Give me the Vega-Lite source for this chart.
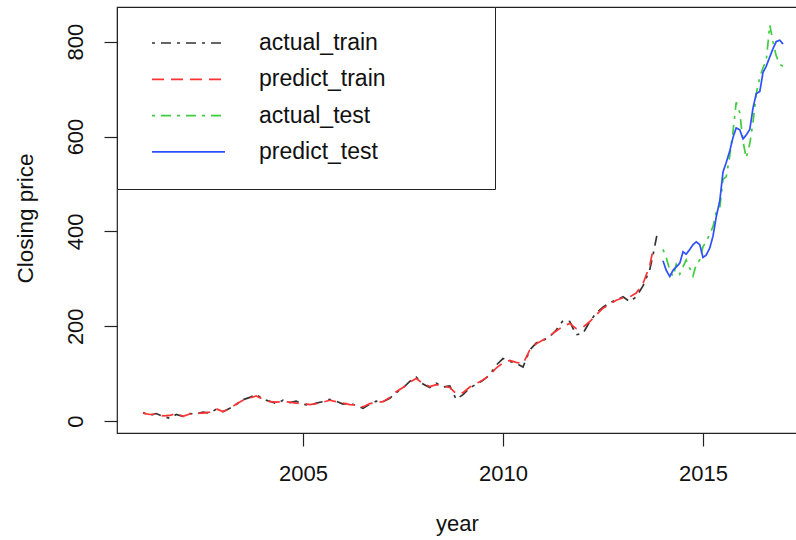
{
  "$schema": "https://vega.github.io/schema/vega-lite/v6.json",
  "width": 680,
  "height": 426,
  "autosize": "none",
  "padding": {"left": 117, "top": 7, "right": 0, "bottom": 107},
  "background": "white",
  "config": {
    "font": "Liberation Sans",
    "view": {"stroke": "#222222", "strokeWidth": 1.2}
  },
  "data": {
    "values": [
      {"year": 2001.0, "actual_train": 18, "predict_train": 17},
      {"year": 2001.17, "actual_train": 12, "predict_train": 14},
      {"year": 2001.33, "actual_train": 16, "predict_train": 15},
      {"year": 2001.5, "actual_train": 10, "predict_train": 11},
      {"year": 2001.67, "actual_train": 6, "predict_train": 12},
      {"year": 2001.83, "actual_train": 14, "predict_train": 16},
      {"year": 2002.0, "actual_train": 10, "predict_train": 10},
      {"year": 2002.17, "actual_train": 16, "predict_train": 15},
      {"year": 2002.33, "actual_train": 15, "predict_train": 17},
      {"year": 2002.5, "actual_train": 19, "predict_train": 17},
      {"year": 2002.67, "actual_train": 17, "predict_train": 19},
      {"year": 2002.83, "actual_train": 25, "predict_train": 26},
      {"year": 2003.0, "actual_train": 20, "predict_train": 20},
      {"year": 2003.17, "actual_train": 27, "predict_train": 26},
      {"year": 2003.33, "actual_train": 35, "predict_train": 36},
      {"year": 2003.5, "actual_train": 45, "predict_train": 44},
      {"year": 2003.67, "actual_train": 50, "predict_train": 49},
      {"year": 2003.83, "actual_train": 56, "predict_train": 53},
      {"year": 2004.0, "actual_train": 46, "predict_train": 46},
      {"year": 2004.17, "actual_train": 42, "predict_train": 41},
      {"year": 2004.33, "actual_train": 37, "predict_train": 40},
      {"year": 2004.5, "actual_train": 44, "predict_train": 41},
      {"year": 2004.67, "actual_train": 39, "predict_train": 40},
      {"year": 2004.83, "actual_train": 42, "predict_train": 38},
      {"year": 2005.0, "actual_train": 36, "predict_train": 37},
      {"year": 2005.17, "actual_train": 33, "predict_train": 35},
      {"year": 2005.33, "actual_train": 38, "predict_train": 37},
      {"year": 2005.5, "actual_train": 41, "predict_train": 40},
      {"year": 2005.67, "actual_train": 46, "predict_train": 44},
      {"year": 2005.83, "actual_train": 42, "predict_train": 41},
      {"year": 2006.0, "actual_train": 36, "predict_train": 38},
      {"year": 2006.17, "actual_train": 38, "predict_train": 35},
      {"year": 2006.33, "actual_train": 33, "predict_train": 34},
      {"year": 2006.5, "actual_train": 27, "predict_train": 30},
      {"year": 2006.67, "actual_train": 36, "predict_train": 37},
      {"year": 2006.83, "actual_train": 42, "predict_train": 39},
      {"year": 2007.0, "actual_train": 41, "predict_train": 41},
      {"year": 2007.17, "actual_train": 48, "predict_train": 50},
      {"year": 2007.33, "actual_train": 60, "predict_train": 62},
      {"year": 2007.5, "actual_train": 70, "predict_train": 71},
      {"year": 2007.67, "actual_train": 84, "predict_train": 82},
      {"year": 2007.83, "actual_train": 93, "predict_train": 90},
      {"year": 2008.0, "actual_train": 78, "predict_train": 79},
      {"year": 2008.17, "actual_train": 71, "predict_train": 73},
      {"year": 2008.33, "actual_train": 80, "predict_train": 77},
      {"year": 2008.5, "actual_train": 72, "predict_train": 74},
      {"year": 2008.67, "actual_train": 74, "predict_train": 71},
      {"year": 2008.83, "actual_train": 46, "predict_train": 58},
      {"year": 2009.0, "actual_train": 56, "predict_train": 60},
      {"year": 2009.17, "actual_train": 70, "predict_train": 72},
      {"year": 2009.33, "actual_train": 78, "predict_train": 79},
      {"year": 2009.5, "actual_train": 86, "predict_train": 87},
      {"year": 2009.67, "actual_train": 98, "predict_train": 97},
      {"year": 2009.83, "actual_train": 118, "predict_train": 112},
      {"year": 2010.0, "actual_train": 132, "predict_train": 123},
      {"year": 2010.17, "actual_train": 126, "predict_train": 128},
      {"year": 2010.33, "actual_train": 122, "predict_train": 124},
      {"year": 2010.5, "actual_train": 114, "predict_train": 121},
      {"year": 2010.67, "actual_train": 150, "predict_train": 150},
      {"year": 2010.83, "actual_train": 165, "predict_train": 163},
      {"year": 2011.0, "actual_train": 170, "predict_train": 171},
      {"year": 2011.17, "actual_train": 178, "predict_train": 180},
      {"year": 2011.33, "actual_train": 192, "predict_train": 190},
      {"year": 2011.5, "actual_train": 212, "predict_train": 200},
      {"year": 2011.67, "actual_train": 210, "predict_train": 206},
      {"year": 2011.83, "actual_train": 182, "predict_train": 195},
      {"year": 2012.0, "actual_train": 185, "predict_train": 198},
      {"year": 2012.17, "actual_train": 210, "predict_train": 210},
      {"year": 2012.33, "actual_train": 228, "predict_train": 224},
      {"year": 2012.5, "actual_train": 240, "predict_train": 238},
      {"year": 2012.67, "actual_train": 250, "predict_train": 246},
      {"year": 2012.83, "actual_train": 255, "predict_train": 255},
      {"year": 2013.0, "actual_train": 262, "predict_train": 260},
      {"year": 2013.17, "actual_train": 252, "predict_train": 262},
      {"year": 2013.33, "actual_train": 262, "predict_train": 270},
      {"year": 2013.5, "actual_train": 285, "predict_train": 290},
      {"year": 2013.67, "actual_train": 320, "predict_train": 328},
      {"year": 2013.75, "actual_train": 350, "predict_train": 362},
      {"year": 2013.85, "actual_train": 393},
      {"year": 2014.0, "actual_test": 362, "predict_test": 338},
      {"year": 2014.08, "actual_test": 345, "predict_test": 318},
      {"year": 2014.17, "actual_test": 318, "predict_test": 305},
      {"year": 2014.25, "actual_test": 305, "predict_test": 318},
      {"year": 2014.33, "actual_test": 330, "predict_test": 325},
      {"year": 2014.42, "actual_test": 310, "predict_test": 333},
      {"year": 2014.5, "actual_test": 325, "predict_test": 357},
      {"year": 2014.58, "actual_test": 340, "predict_test": 352},
      {"year": 2014.67, "actual_test": 322, "predict_test": 362},
      {"year": 2014.75, "actual_test": 306, "predict_test": 372},
      {"year": 2014.83, "actual_test": 330, "predict_test": 378},
      {"year": 2014.92, "actual_test": 340, "predict_test": 372},
      {"year": 2015.0, "actual_test": 368, "predict_test": 345},
      {"year": 2015.08, "actual_test": 378, "predict_test": 350},
      {"year": 2015.17, "actual_test": 395, "predict_test": 365},
      {"year": 2015.25, "actual_test": 410, "predict_test": 390},
      {"year": 2015.33, "actual_test": 440, "predict_test": 430},
      {"year": 2015.42, "actual_test": 450, "predict_test": 465},
      {"year": 2015.5, "actual_test": 510, "predict_test": 525},
      {"year": 2015.58, "actual_test": 515, "predict_test": 545},
      {"year": 2015.67, "actual_test": 560, "predict_test": 570},
      {"year": 2015.75, "actual_test": 610, "predict_test": 598},
      {"year": 2015.83, "actual_test": 672, "predict_test": 618},
      {"year": 2015.92, "actual_test": 650, "predict_test": 614},
      {"year": 2016.0, "actual_test": 590, "predict_test": 595},
      {"year": 2016.08, "actual_test": 555, "predict_test": 603},
      {"year": 2016.17, "actual_test": 585, "predict_test": 615},
      {"year": 2016.25, "actual_test": 630, "predict_test": 660},
      {"year": 2016.33, "actual_test": 690, "predict_test": 690},
      {"year": 2016.42, "actual_test": 725, "predict_test": 695},
      {"year": 2016.5, "actual_test": 745, "predict_test": 735},
      {"year": 2016.58, "actual_test": 760, "predict_test": 748},
      {"year": 2016.67, "actual_test": 835, "predict_test": 768},
      {"year": 2016.75, "actual_test": 800, "predict_test": 785},
      {"year": 2016.83, "actual_test": 770, "predict_test": 800},
      {"year": 2016.92, "actual_test": 752, "predict_test": 803},
      {"year": 2017.0, "actual_test": 748, "predict_test": 795}
    ]
  },
  "transform": [
    {"fold": ["actual_train", "predict_train", "actual_test", "predict_test"], "as": ["series", "price"]},
    {"filter": "isValid(datum.price)"}
  ],
  "mark": {"type": "line", "strokeWidth": 1.7, "clip": true},
  "encoding": {
    "x": {
      "field": "year",
      "type": "quantitative",
      "scale": {"domain": [2000.35, 2017.35], "nice": false, "zero": false},
      "axis": {
        "values": [2005, 2010, 2015],
        "format": "d",
        "grid": false,
        "domain": false,
        "tickColor": "#222222",
        "tickSize": 13,
        "tickWidth": 1.2,
        "labelFontSize": 22,
        "labelColor": "#111111",
        "labelBaseline": "alphabetic",
        "labelPadding": 34,
        "title": "year",
        "titleFontSize": 22,
        "titleFontWeight": "normal",
        "titleColor": "#111111",
        "titleX": 340,
        "titleY": 97,
        "titleBaseline": "alphabetic"
      }
    },
    "y": {
      "field": "price",
      "type": "quantitative",
      "scale": {"domain": [-25, 873], "nice": false, "zero": false},
      "axis": {
        "values": [0, 200, 400, 600, 800],
        "grid": false,
        "domain": false,
        "tickColor": "#222222",
        "tickSize": 13,
        "tickWidth": 1.2,
        "labelFontSize": 22,
        "labelColor": "#111111",
        "labelAngle": -90,
        "labelAlign": "center",
        "labelBaseline": "alphabetic",
        "labelPadding": 22,
        "title": "Closing price",
        "titleFontSize": 22.5,
        "titleFontWeight": "normal",
        "titleColor": "#111111",
        "titleAngle": -90,
        "titleAlign": "center",
        "titleBaseline": "alphabetic",
        "titleX": -85,
        "titleY": 211
      }
    },
    "color": {
      "field": "series",
      "type": "nominal",
      "scale": {
        "domain": ["actual_train", "predict_train", "actual_test", "predict_test"],
        "range": ["#333333", "#ff3333", "#3fcc3f", "#2f50ff"]
      },
      "legend": {
        "title": " ",
        "titleOrient": "right",
        "titlePadding": 84,
        "orient": "none",
        "legendX": 0,
        "legendY": 0,
        "padding": 25,
        "fillColor": "white",
        "strokeColor": "#222222",
        "symbolType": "stroke",
        "symbolSize": 5329,
        "symbolStrokeWidth": 1.7,
        "symbolOffset": 9,
        "clipHeight": 22,
        "rowPadding": 13.3,
        "labelFontSize": 23,
        "labelColor": "#111111",
        "labelOffset": 33,
        "labelBaseline": "middle"
      }
    },
    "strokeDash": {
      "field": "series",
      "type": "nominal",
      "scale": {
        "domain": ["actual_train", "predict_train", "actual_test", "predict_test"],
        "range": [[3, 6, 10, 6], [12, 7], [3, 6, 10, 6], [1, 0]]
      },
      "legend": {
        "title": " ",
        "titleOrient": "right",
        "titlePadding": 84,
        "orient": "none",
        "legendX": 0,
        "legendY": 0,
        "padding": 25,
        "fillColor": "white",
        "strokeColor": "#222222",
        "symbolType": "stroke",
        "symbolSize": 5329,
        "symbolStrokeWidth": 1.7,
        "symbolOffset": 9,
        "clipHeight": 22,
        "rowPadding": 13.3,
        "labelFontSize": 23,
        "labelColor": "#111111",
        "labelOffset": 33,
        "labelBaseline": "middle"
      }
    }
  }
}
